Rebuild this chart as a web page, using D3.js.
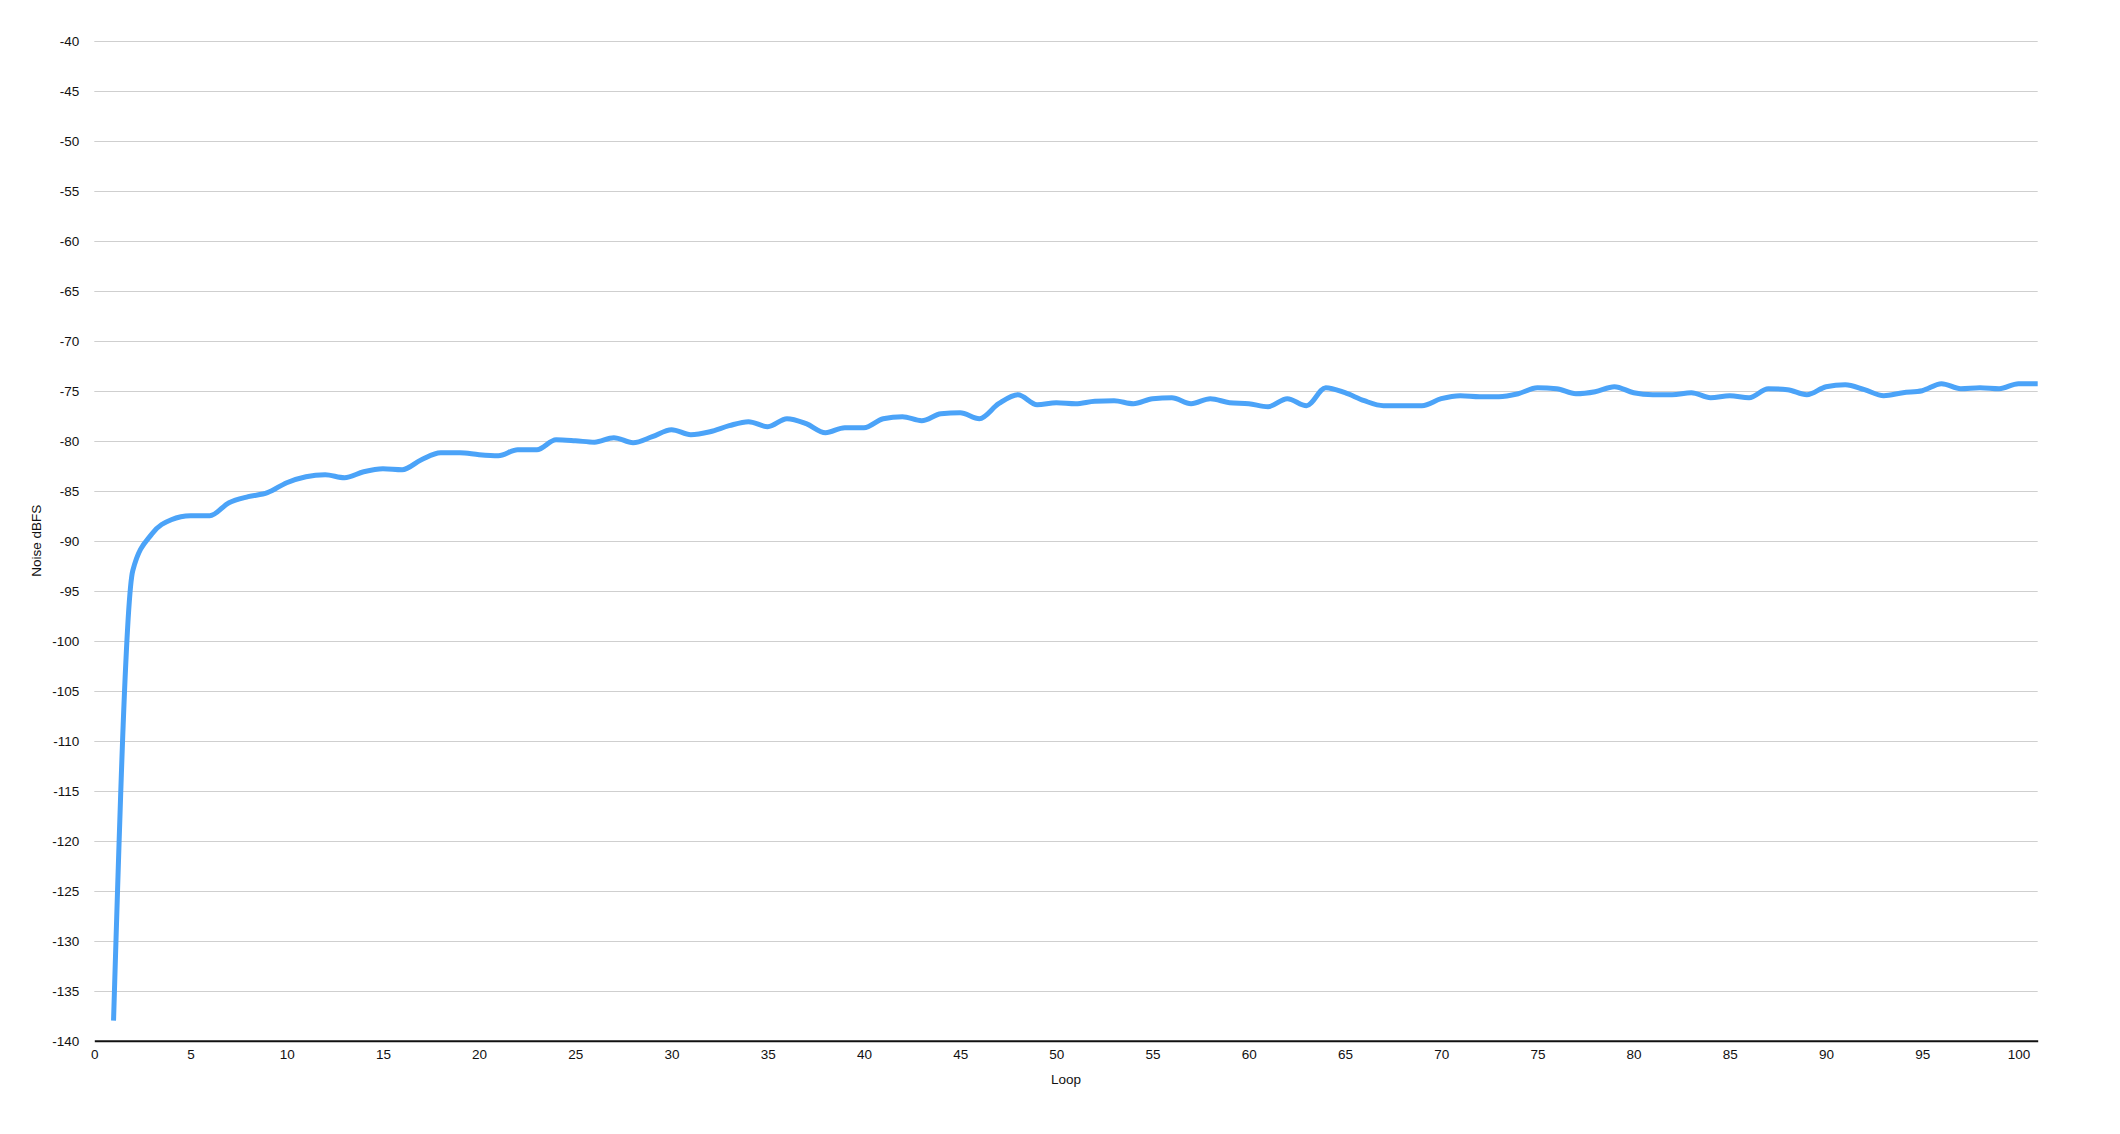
<!DOCTYPE html>
<html lang="en">
<head>
  <meta charset="UTF-8">
  <title>Noise dBFS per loop</title>
  <script src="https://d3js.org/d3.v7.min.js"></script>
  <style>
    body { margin: 0; background: #fff; }
    svg { display: block; }
    text {
      font-family: "Liberation Sans", Arial, Helvetica, sans-serif;
      font-size: 13.5px;
      fill: #111;
    }
    .grid line { stroke: #cfcfcf; stroke-width: 1px; }
    .line {
      fill: none;
      stroke: #4ba3f8;
      stroke-width: 5px;
    }
  </style>
</head>
<body>
  <svg width="2120" height="1134"></svg>

  <script>
    // loop numbers 1..101
    const loops = d3.range(1, 102);

    // noise level, one value per loop
    const noise = [
      -138.0, -93.0, -89.3, -87.9, -87.5, -87.5, -86.2, -85.6, -85.2, -84.2,
      -83.6, -83.4, -83.7, -83.1, -82.8, -82.9, -81.9, -81.2, -81.2, -81.4,
      -81.5, -80.9, -80.9, -79.9, -80.0, -80.15, -79.7, -80.2, -79.6, -78.9,
      -79.4, -79.1, -78.5, -78.1, -78.6, -77.8, -78.3, -79.2, -78.7, -78.7,
      -77.8, -77.6, -78.0, -77.3, -77.2, -77.8, -76.3, -75.4, -76.4, -76.2,
      -76.3, -76.05, -76.0, -76.3, -75.8, -75.7, -76.3, -75.8, -76.2, -76.3,
      -76.6, -75.8, -76.5, -74.7, -75.2, -76.0, -76.5, -76.5, -76.5, -75.8,
      -75.5, -75.6, -75.6, -75.3, -74.7, -74.8, -75.3, -75.1, -74.6, -75.2,
      -75.4, -75.4, -75.2, -75.7, -75.5, -75.7, -74.8, -74.9, -75.4, -74.6,
      -74.4, -74.9, -75.5, -75.2, -75.0, -74.3, -74.8, -74.7, -74.8, -74.3,
      -74.3
    ];

    const xTicks = d3.range(0, 101, 5);
    const yTicks = d3.range(-140, -39, 5);

    const svg = d3.select("svg");

    const x = d3.scaleLinear().domain([0, 101]).range([94.3, 2037.7]);
    const y = d3.scaleLinear().domain([-140, -40]).range([1040.7, 40.7]);

    // horizontal grid
    svg.append("g")
       .attr("class", "grid")
       .selectAll("line")
       .data(yTicks.filter(t => t !== -140))
       .enter()
       .append("line")
       .attr("x1", x(0))
       .attr("x2", x(101))
       .attr("y1", d => Math.round(y(d)) + 0.5)
       .attr("y2", d => Math.round(y(d)) + 0.5);

    // y axis labels (plain hyphen, like the original)
    const yAxis = svg.append("g")
       .attr("transform", `translate(${x(0)},0)`)
       .call(d3.axisLeft(y)
               .tickValues(yTicks)
               .tickFormat(d => String(d))
               .tickSize(0)
               .tickPadding(15));
    yAxis.select(".domain").remove();
    yAxis.selectAll("text").style("font-size", "13.5px").attr("fill", "#111");

    // x axis
    const xAxis = svg.append("g")
       .attr("transform", `translate(0,${y(-140)})`)
       .call(d3.axisBottom(x)
               .tickValues(xTicks)
               .tickFormat(d => String(d))
               .tickSize(0)
               .tickPadding(9));
    xAxis.select(".domain")
         .attr("stroke", "#111")
         .attr("stroke-width", 2);
    xAxis.selectAll("text").style("font-size", "13.5px").attr("fill", "#111");

    // axis titles
    svg.append("text")
       .attr("x", (x(0) + x(101)) / 2)
       .attr("y", 1084)
       .attr("text-anchor", "middle")
       .text("Loop");

    svg.append("text")
       .attr("transform", `translate(41,${(y(-40) + y(-140)) / 2}) rotate(-90)`)
       .attr("text-anchor", "middle")
       .text("Noise dBFS");

    // the series
    const line = d3.line()
                   .x((d, i) => x(loops[i]))
                   .y(d => y(d))
                   .curve(d3.curveMonotoneX);

    svg.append("path")
       .datum(noise)
       .attr("class", "line")
       .attr("d", line);
  </script>
</body>
</html>
